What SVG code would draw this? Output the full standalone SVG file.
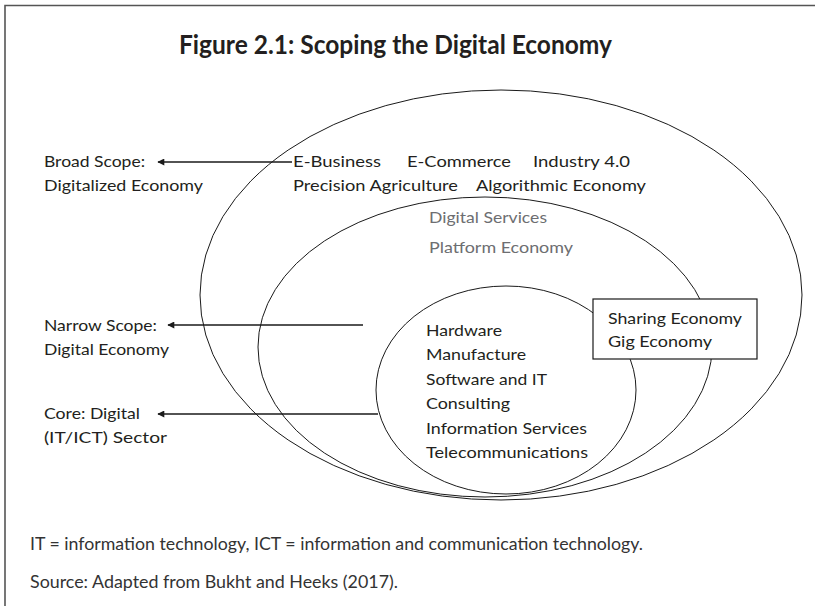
<svg xmlns="http://www.w3.org/2000/svg" width="815" height="606" viewBox="0 0 815 606">
<style>
text{font-family:Lato,"Open Sans","Liberation Sans",sans-serif;fill:#231f20;font-size:16px}
.t{font-weight:bold;font-size:26px}
.g{fill:#6d6e71}
.f{font-size:17px;fill:#333}
.e{fill:none;stroke:#1a1a1a;stroke-width:1}
.c{stroke:#1a1a1a;stroke-width:1.5;fill:none}
</style>
<defs>
<marker id="ah" viewBox="0 0 10 10" refX="9" refY="5" markerWidth="8" markerHeight="7" markerUnits="userSpaceOnUse" orient="auto">
<path d="M0,0 L10,5 L0,10 z" fill="#1a1a1a"/>
</marker>
</defs>
<rect width="815" height="606" fill="#fff"/>
<path d="M5,606 V5.5 H815" fill="none" stroke="#555" stroke-width="1.6"/>
<text class="t" x="179" y="54" textLength="433" lengthAdjust="spacingAndGlyphs">Figure 2.1: Scoping the Digital Economy</text>
<g id="outer"><ellipse class="e" cx="501" cy="295" rx="301" ry="205"/>
<text x="293" y="167" textLength="88" lengthAdjust="spacingAndGlyphs">E-Business</text>
<text x="407" y="167" textLength="104" lengthAdjust="spacingAndGlyphs">E-Commerce</text>
<text x="533" y="167" textLength="97" lengthAdjust="spacingAndGlyphs">Industry 4.0</text>
<text x="293" y="191" textLength="165" lengthAdjust="spacingAndGlyphs">Precision Agriculture</text>
<text x="476" y="191" textLength="170" lengthAdjust="spacingAndGlyphs">Algorithmic Economy</text>
</g>
<g id="middle"><ellipse class="e" cx="485" cy="347" rx="227" ry="150"/>
<text class="g" x="429" y="223" textLength="118" lengthAdjust="spacingAndGlyphs">Digital Services</text>
<text class="g" x="429" y="253" textLength="144" lengthAdjust="spacingAndGlyphs">Platform Economy</text>
</g>
<g id="inner"><ellipse class="e" cx="506" cy="390" rx="130" ry="104"/>
<text x="426" y="336" textLength="76" lengthAdjust="spacingAndGlyphs">Hardware</text>
<text x="426" y="360" textLength="100" lengthAdjust="spacingAndGlyphs">Manufacture</text>
<text x="426" y="385" textLength="121" lengthAdjust="spacingAndGlyphs">Software and IT</text>
<text x="426" y="409" textLength="84" lengthAdjust="spacingAndGlyphs">Consulting</text>
<text x="426" y="434" textLength="161" lengthAdjust="spacingAndGlyphs">Information Services</text>
<text x="426" y="458" textLength="162" lengthAdjust="spacingAndGlyphs">Telecommunications</text>
</g>
<g id="sharing"><rect x="593" y="299" width="164" height="60" fill="#fff" stroke="#1a1a1a" stroke-width="1.2"/>
<text x="608" y="324" textLength="134" lengthAdjust="spacingAndGlyphs">Sharing Economy</text>
<text x="608" y="347" textLength="104" lengthAdjust="spacingAndGlyphs">Gig Economy</text>
</g>
<g id="broad"><text x="44" y="167" textLength="101" lengthAdjust="spacingAndGlyphs">Broad Scope:</text>
<text x="44" y="191" textLength="159" lengthAdjust="spacingAndGlyphs">Digitalized Economy</text></g>
<g id="narrow"><text x="44" y="331" textLength="113" lengthAdjust="spacingAndGlyphs">Narrow Scope:</text>
<text x="44" y="355" textLength="125" lengthAdjust="spacingAndGlyphs">Digital Economy</text></g>
<g id="core"><text x="44" y="419" textLength="96" lengthAdjust="spacingAndGlyphs">Core: Digital</text>
<text x="44" y="443" textLength="123" lengthAdjust="spacingAndGlyphs">(IT/ICT) Sector</text></g>
<g id="connectors">
<line class="c" x1="292" y1="162" x2="158" y2="162" marker-end="url(#ah)"/>
<line class="c" x1="363" y1="325" x2="168" y2="325" marker-end="url(#ah)"/>
<line class="c" x1="378" y1="414" x2="158" y2="414" marker-end="url(#ah)"/>
</g>
<text class="f" x="30" y="550" textLength="613" lengthAdjust="spacingAndGlyphs">IT = information technology, ICT = information and communication technology.</text>
<text class="f" x="30" y="588" textLength="368" lengthAdjust="spacingAndGlyphs">Source: Adapted from Bukht and Heeks (2017).</text>
</svg>
